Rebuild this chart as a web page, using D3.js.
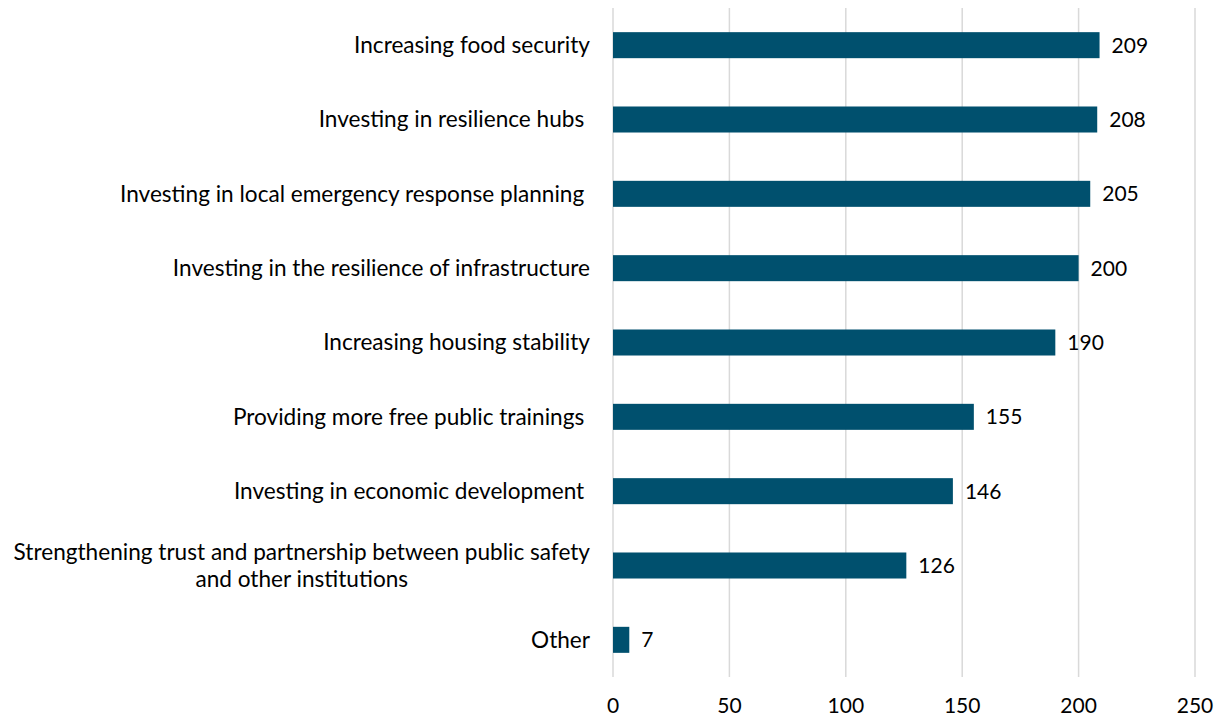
<!DOCTYPE html>
<html>
<head>
<meta charset="utf-8">
<script src="https://cdn.jsdelivr.net/npm/d3@7"></script>
<style>
  body { margin: 0; background: #fff; }
  svg text { font-family: Lato, "Open Sans", sans-serif; fill: #000; }
</style>
</head>
<body>
<svg id="chart"></svg>
<script>
const categories = [
  "Increasing food security",
  "Investing in resilience hubs ",
  "Investing in local emergency response planning ",
  "Investing in the resilience of infrastructure",
  "Increasing housing stability",
  "Providing more free public trainings ",
  "Investing in economic development ",
  "Strengthening trust and partnership between public safety\nand other institutions",
  "Other"
];
const values = [209, 208, 205, 200, 190, 155, 146, 126, 7];
const ticks = [0, 50, 100, 150, 200, 250];

const w = 1217, h = 719;
const plotLeft = 613, plotRight = 1195, plotTop = 8, plotBottom = 677;

const svg = d3.select("#chart").attr("width", w).attr("height", h);

const x = d3.scaleLinear().domain([0, 250]).range([plotLeft, plotRight]);
const y = d3.scaleBand().domain(categories).range([plotTop, plotBottom])
  .paddingInner(0.65).paddingOuter(0.325);

// gridlines
svg.append("g")
  .selectAll("line")
  .data(ticks)
  .enter()
  .append("line")
  .attr("x1", d => x(d)).attr("x2", d => x(d))
  .attr("y1", plotTop).attr("y2", plotBottom)
  .attr("stroke", "#d9d9d9")
  .attr("stroke-width", 1.5);

// tick labels
svg.append("g")
  .selectAll("text")
  .data(ticks)
  .enter()
  .append("text")
  .attr("x", d => x(d))
  .attr("y", 706)
  .attr("dy", "0.35em")
  .attr("text-anchor", "middle")
  .style("font-size", "21px")
  .text(d => d);

// bars
svg.append("g")
  .selectAll("rect")
  .data(values)
  .enter()
  .append("rect")
  .attr("x", x(0))
  .attr("y", (d, i) => y(categories[i]))
  .attr("width", d => x(d) - x(0))
  .attr("height", y.bandwidth())
  .attr("fill", "#00506e");

// value labels
svg.append("g")
  .selectAll("text")
  .data(values)
  .enter()
  .append("text")
  .attr("x", d => x(d) + 12)
  .attr("y", (d, i) => y(categories[i]) + y.bandwidth() / 2)
  .attr("dy", "0.35em")
  .style("font-size", "21px")
  .text(d => d);

// category labels (multi-line ones centred as a block, block right aligned)
const labelRight = 590;
const lineH = 27;
categories.forEach(c => {
  const lines = c.split("\n");
  const cy = y(c) + y.bandwidth() / 2;
  const g = svg.append("g");
  const texts = lines.map((ln, j) => g.append("text")
    .attr("y", cy + (j - (lines.length - 1) / 2) * lineH)
    .attr("dy", "0.35em")
    .style("font-size", "22.6px")
    .style("white-space", "pre")
    .text(ln));
  if (lines.length === 1) {
    texts[0].attr("x", labelRight).attr("text-anchor", "end");
  } else {
    const widths = texts.map(t => t.node().getComputedTextLength());
    const maxW = d3.max(widths);
    const center = labelRight - maxW / 2;
    texts.forEach(t => t.attr("x", center).attr("text-anchor", "middle"));
  }
});
</script>
</body>
</html>
